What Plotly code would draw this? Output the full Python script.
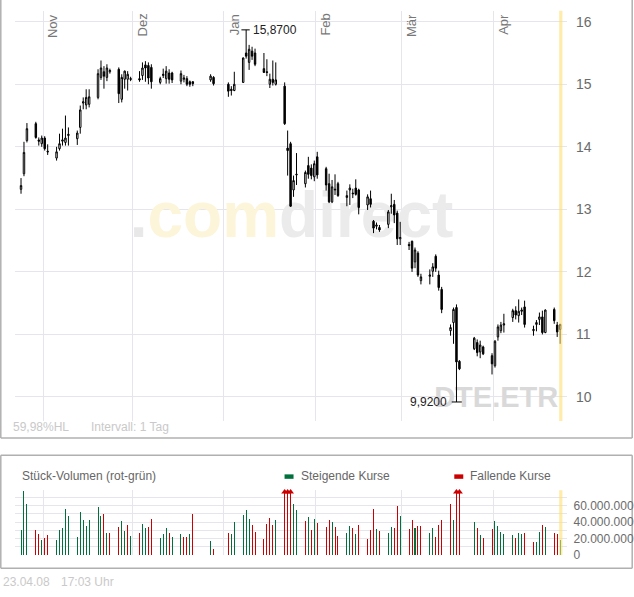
import plotly.graph_objects as go
import pandas as pd

# ---------------- data ----------------
dates = [
    "2007-10-24", "2007-10-25", "2007-10-26", "2007-10-29", "2007-10-30", "2007-10-31",
    "2007-11-01", "2007-11-02",
    "2007-11-05", "2007-11-06", "2007-11-07", "2007-11-08", "2007-11-09",
    "2007-11-12", "2007-11-13", "2007-11-14", "2007-11-15", "2007-11-16",
    "2007-11-19", "2007-11-20", "2007-11-21", "2007-11-22", "2007-11-23",
    "2007-11-26", "2007-11-27", "2007-11-28", "2007-11-29", "2007-11-30",
    "2007-12-03", "2007-12-04", "2007-12-05", "2007-12-06", "2007-12-07",
    "2007-12-10", "2007-12-11", "2007-12-12", "2007-12-13", "2007-12-14",
    "2007-12-17", "2007-12-18", "2007-12-19", "2007-12-20", "2007-12-21",
    "2007-12-27", "2007-12-28",
    "2008-01-02", "2008-01-03", "2008-01-04",
    "2008-01-07", "2008-01-08", "2008-01-09", "2008-01-10", "2008-01-11",
    "2008-01-14", "2008-01-15", "2008-01-16", "2008-01-17", "2008-01-18",
    "2008-01-21", "2008-01-22", "2008-01-23", "2008-01-24", "2008-01-25",
    "2008-01-28", "2008-01-29", "2008-01-30", "2008-01-31", "2008-02-01",
    "2008-02-04", "2008-02-05", "2008-02-06", "2008-02-07", "2008-02-08",
    "2008-02-11", "2008-02-12", "2008-02-13", "2008-02-14", "2008-02-15",
    "2008-02-18", "2008-02-19", "2008-02-20", "2008-02-21", "2008-02-22",
    "2008-02-25", "2008-02-26", "2008-02-27", "2008-02-28", "2008-02-29",
    "2008-03-03", "2008-03-04", "2008-03-05", "2008-03-06", "2008-03-07",
    "2008-03-10", "2008-03-11", "2008-03-12", "2008-03-13", "2008-03-14",
    "2008-03-17", "2008-03-18", "2008-03-19", "2008-03-20",
    "2008-03-25", "2008-03-26", "2008-03-27", "2008-03-28",
    "2008-03-31", "2008-04-01", "2008-04-02", "2008-04-03", "2008-04-04",
    "2008-04-07", "2008-04-08", "2008-04-09", "2008-04-10", "2008-04-11",
    "2008-04-14", "2008-04-15", "2008-04-16", "2008-04-17", "2008-04-18",
    "2008-04-21", "2008-04-22", "2008-04-23",
]

opens = [
    13.32, 13.57, 14.10, 14.37, 14.11, 14.05,
    14.14, 13.93,
    13.82, 13.97, 14.09, 14.07, 14.18,
    14.13, 14.31, 14.70, 14.67, 14.68,
    14.79, 15.11, 15.20, 15.11, 15.20,
    15.24, 14.76, 15.08, 15.08, 15.09,
    15.09, 15.14, 15.31, 15.30, 15.27,
    15.03, 15.14, 15.09, 15.18, 15.18,
    15.05, 15.08, 15.09, 15.04, 15.04,
    15.07, 15.11,
    15.00, 14.92, 14.90,
    15.03, 15.50, 15.35, 15.53, 15.50,
    15.25, 15.20, 15.00, 15.08, 15.00,
    14.97, 13.98, 14.05, 13.31, 13.55,
    13.41, 13.70, 13.66, 13.52, 13.84,
    13.65, 13.41, 13.12, 13.31, 13.41,
    13.19, 13.31, 13.26, 13.34, 13.31,
    13.07, 13.17, 12.81, 12.73, 12.71,
    12.76, 13.04, 13.08, 12.94, 12.53,
    12.44, 12.49, 12.16, 12.30, 11.86,
    11.93, 12.01, 12.25, 11.95, 11.72,
    11.06, 11.19, 11.43, 10.57,
    10.77, 10.87, 10.72, 10.80,
    10.66, 10.50, 10.96, 11.06, 11.15,
    11.27, 11.38, 11.30, 11.37, 11.44,
    11.06, 11.16, 11.24, 11.28, 11.03,
    11.40, 11.15, 11.08,
]

highs = [
    13.50, 14.08, 14.38, 14.40, 14.15, 14.18,
    14.17, 14.04,
    14.00, 14.21, 14.29, 14.50, 14.31,
    14.26, 14.66, 14.79, 14.92, 14.92,
    15.24, 15.38, 15.29, 15.32, 15.25,
    15.27, 15.16, 15.22, 15.21, 15.12,
    15.21, 15.35, 15.37, 15.35, 15.32,
    15.12, 15.25, 15.29, 15.24, 15.20,
    15.22, 15.15, 15.13, 15.06, 15.05,
    15.16, 15.13,
    15.03, 14.97, 15.20,
    15.43, 15.87, 15.63, 15.60, 15.57,
    15.50, 15.40, 15.17, 15.38, 15.35,
    15.03, 14.26, 14.08, 13.54, 13.90,
    13.62, 13.84, 13.72, 13.78, 13.92,
    13.68, 13.57, 13.47, 13.56, 13.44,
    13.30, 13.40, 13.33, 13.48, 13.33,
    13.24, 13.30, 12.83, 12.79, 12.75,
    12.99, 13.25, 13.15, 12.98, 12.80,
    12.48, 12.50, 12.39, 12.33, 11.97,
    12.04, 12.14, 12.28, 12.02, 11.76,
    11.16, 11.43, 11.48, 10.59,
    10.96, 10.92, 10.90, 10.82,
    10.70, 10.91, 11.16, 11.20, 11.33,
    11.41, 11.45, 11.56, 11.43, 11.54,
    11.14, 11.23, 11.35, 11.38, 11.40,
    11.43, 11.20, 11.17,
]

lows = [
    13.25, 13.53, 14.07, 14.13, 14.02, 14.00,
    13.94, 13.87,
    13.78, 13.94, 14.02, 14.02, 14.02,
    14.03, 14.21, 14.60, 14.60, 14.63,
    14.76, 15.07, 14.93, 15.05, 15.17,
    14.70, 14.71, 14.93, 14.90, 15.05,
    15.04, 15.07, 15.04, 15.00, 14.93,
    15.00, 15.10, 15.01, 15.01, 15.02,
    15.00, 15.03, 14.97, 14.96, 14.97,
    15.04, 14.98,
    14.80, 14.82, 14.89,
    15.02, 15.41, 15.23, 15.39, 15.29,
    15.18, 15.13, 14.94, 14.98, 14.98,
    14.35, 13.54, 13.04, 13.20, 13.39,
    13.35, 13.49, 13.48, 13.45, 13.49,
    13.30, 13.10, 13.10, 13.23, 13.20,
    13.05, 13.07, 13.18, 13.22, 12.92,
    12.99, 13.03, 12.62, 12.68, 12.64,
    12.70, 12.93, 12.78, 12.43, 12.43,
    12.35, 12.00, 12.06, 11.92, 11.80,
    11.80, 11.92, 12.00, 11.70, 11.34,
    10.98, 10.85, 9.92, 10.43,
    10.75, 10.65, 10.62, 10.67,
    10.36, 10.47, 10.90, 11.02, 11.03,
    11.20, 11.24, 11.19, 11.31, 11.11,
    10.98, 11.05, 11.15, 11.00, 11.02,
    11.17, 10.96, 10.85,
]

closes = [
    13.38, 13.91, 14.29, 14.15, 14.09, 14.14,
    13.97, 13.92,
    13.92, 14.05, 14.11, 14.14, 14.20,
    14.22, 14.59, 14.72, 14.79, 14.80,
    15.17, 15.26, 15.13, 15.26, 15.22,
    14.85, 15.11, 15.21, 15.16, 15.08,
    15.07, 15.26, 15.26, 15.10, 15.04,
    15.09, 15.16, 15.21, 15.08, 15.07,
    15.17, 15.10, 15.00, 15.00, 15.01,
    15.13, 15.01,
    14.89, 14.90, 15.00,
    15.42, 15.45, 15.56, 15.45, 15.32,
    15.19, 15.19, 15.08, 15.03, 15.07,
    14.37, 13.94, 13.05, 13.46, 13.56,
    13.59, 13.56, 13.54, 13.73, 13.55,
    13.39, 13.12, 13.36, 13.32, 13.22,
    13.22, 13.34, 13.25, 13.24, 13.03,
    13.20, 13.08, 12.70, 12.75, 12.67,
    12.96, 13.06, 12.91, 12.53, 12.55,
    12.42, 12.06, 12.35, 11.95, 11.92,
    11.95, 12.08, 12.06, 11.75, 11.40,
    11.11, 11.40, 10.56, 10.45,
    10.94, 10.71, 10.83, 10.69,
    10.53, 10.89, 11.12, 11.15, 11.17,
    11.38, 11.31, 11.37, 11.39, 11.16,
    11.08, 11.19, 11.28, 11.03, 11.39,
    11.22, 11.04, 11.16,
]

# volume in millions of shares
volumes_m = [
    30, 78, 62, 30, 26, 18,
    21, 25,
    18, 30, 33, 56, 47.6,
    22, 52.5, 42.8, 35.6, 42.8,
    58.4, 47.6, 50, 27.2, 27.2,
    34.4, 41.6, 29.6, 36.8, 23.6,
    27.2, 38, 33.2, 34.4, 44,
    21.2, 26, 33.2, 27.2, 22.4,
    26, 22.4, 22.4, 26, 50,
    17.6, 8,
    27.2, 26, 40.4,
    48.8, 54.8, 44, 36.8, 28.4,
    20, 38, 45.2, 36.8, 42.8,
    105, 125, 115, 62, 54.8,
    42, 46.8, 30.8, 44, 39.2,
    34.4, 42.8, 40.4, 34.4, 23.6,
    27.2, 35.6, 33.2, 26, 36.8,
    20, 30.8, 56, 32, 29.6,
    27.2, 34.4, 33.2, 59.6, 47.6,
    32, 42.8, 33.2, 35.6, 35.6,
    27.2, 33.2, 22.4, 36.8, 42.8,
    62, 42.8, 120, 95,
    40.4, 33.2, 24.8, 21.2,
    32, 41.6, 35.6, 28.4, 26,
    24.8, 21.2, 27.2, 26, 27.2,
    16.4, 16.4, 28.4, 36.8, 34.4,
    27.2, 26, 18.8,
]

# g = rising (green), r = falling (red)
volume_dir = (
    "gggrrg" "rr" "ggggg" "ggggg" "ggrgr" "rggrg" "rggrr" "gggrg" "grrgr" "gr"
    "rgg" "gggrr" "rrrrg" "rrrgg" "rgrgr" "rrgrr" "ggrgr" "rrrgr" "ggrrg"
    "rrgrr" "ggrrr" "rgrr" "grgr" "rgggg" "grggr" "rggrg" "rrg"
)

month_starts = ["2007-11-01", "2007-12-01", "2008-01-01", "2008-02-01", "2008-03-01", "2008-04-01"]
month_labels = ["Nov", "Dez", "Jan", "Feb", "Mär", "Apr"]
price_ticks = [10, 11, 12, 13, 14, 15, 16]
volume_ticks_m = [0, 10, 20, 30, 40, 50, 60, 70]
volume_ticktext = ["0", "", "20.000.000", "", "40.000.000", "", "60.000.000", ""]
now_stamp = "2008-04-23 17:03"

# ---------------- geometry helpers ----------------
W, H = 634, 597
FONT = "Liberation Sans, Arial, sans-serif"
GRID = "#e7e5ec"
FRAME = "#b0b0b0"
NOV1 = pd.Timestamp("2007-11-01")
PX_NOV1, PX_PER_DAY = 43.3, 2.967


def px2date(px):
    return NOV1 + pd.Timedelta(days=(px - PX_NOV1) / PX_PER_DAY)


def fx(px):
    return px / W


def fy(py):
    return 1 - py / H


def py2price(py):
    return 16 - (py - 22) / 63.28


xs = [pd.Timestamp(d) + pd.Timedelta(hours=12) for d in dates]
x_range = [px2date(15), px2date(568)]
y_range = [py2price(426), py2price(11)]
vol_top = 78.8

fig = go.Figure()

# watermark (base layer, below the candles)
fig.add_trace(go.Scatter(
    x=[px2date(292)], y=[py2price(224)], mode="text",
    text=['<span style="color:#e8e8e8">.</span><span style="color:#fcf5da">com</span>'
          '<span style="color:#ebebeb">direct</span>'],
    textposition="middle center",
    textfont=dict(family=FONT, size=64, weight="bold"),
    xaxis="x", yaxis="y", hoverinfo="skip", showlegend=False))
fig.add_trace(go.Scatter(
    x=[px2date(497)], y=[py2price(405)], mode="text", text=["DTE.ETR"],
    textposition="middle center",
    textfont=dict(family=FONT, size=29, color="#d9d9d9", weight="bold"),
    xaxis="x", yaxis="y", hoverinfo="skip", showlegend=False))

# candles on an overlay axis so they sit above the watermark
fig.add_trace(go.Candlestick(
    x=xs, open=opens, high=highs, low=lows, close=closes,
    xaxis="x", yaxis="y3",
    increasing=dict(line=dict(color="#000000", width=1), fillcolor="#ffffff"),
    decreasing=dict(line=dict(color="#000000", width=1), fillcolor="#000000"),
    whiskerwidth=0, hoverinfo="skip", showlegend=False))

# volume bars
GREEN, RED = "#00703c", "#cc0000"
bar_colors = [GREEN if c == "g" else RED for c in volume_dir]
fig.add_trace(go.Bar(
    x=xs, y=volumes_m, marker=dict(color=bar_colors, line=dict(width=0)),
    width=0.34 * 86400000, xaxis="x2", yaxis="y2", hoverinfo="skip", showlegend=False))

clip_x = [x for x, v in zip(xs, volumes_m) if v > vol_top]
fig.add_trace(go.Scatter(
    x=clip_x, y=[vol_top - 2.2] * len(clip_x), mode="markers",
    marker=dict(symbol="triangle-up", size=6, color=RED, line=dict(width=0)),
    xaxis="x2", yaxis="y2", cliponaxis=False, hoverinfo="skip", showlegend=False))

# ---------------- shapes & annotations ----------------
shapes = []
annotations = []

# panel frames (kept inside the page)
L, R = 0.8, 633.2
for x0, y0, x1, y1 in [(L, 0, L, 443.3), (R, 0, R, 443.3), (L, 443.3, R, 443.3),
                       (L, 460.7, R, 460.7), (L, 575, R, 575), (L, 460.7, L, 575), (R, 460.7, R, 575)]:
    shapes.append(dict(type="line", xref="paper", yref="paper", x0=fx(x0), x1=fx(x1), y0=fy(y0), y1=fy(y1),
                       line=dict(color=FRAME, width=1.5), layer="below"))

# today highlight
now = pd.Timestamp(now_stamp)
half = pd.Timedelta(hours=13)
for y0, y1 in [(fy(426), fy(11)), (fy(561.7), fy(496))]:
    shapes.append(dict(type="rect", xref="x", yref="paper", x0=now - half, x1=now + half, y0=y0, y1=y1,
                       fillcolor="#ffdf70", opacity=0.6, line=dict(width=0), layer="above"))

# high / low markers
hi = max(range(len(highs)), key=lambda i: highs[i])
lo = min(range(len(lows)), key=lambda i: lows[i])
day = pd.Timedelta(days=1)
shapes.append(dict(type="line", xref="x", yref="y", x0=xs[hi] - 1.6 * day, x1=xs[hi] + 1.2 * day,
                   y0=highs[hi], y1=highs[hi], line=dict(color="#000", width=1)))
shapes.append(dict(type="line", xref="x", yref="y", x0=xs[lo] - 1.6 * day, x1=xs[lo] + 1.8 * day,
                   y0=lows[lo], y1=lows[lo], line=dict(color="#000", width=1)))
annotations.append(dict(x=xs[hi], y=highs[hi], xref="x", yref="y", xanchor="left", yanchor="middle",
                        xshift=5, text=f"{highs[hi]:.4f}".replace(".", ","), showarrow=False,
                        font=dict(family=FONT, size=12, color="#222")))
annotations.append(dict(x=xs[lo], y=lows[lo], xref="x", yref="y", xanchor="right", yanchor="middle",
                        xshift=-7, text=f"{lows[lo]:.4f}".replace(".", ","), showarrow=False,
                        font=dict(family=FONT, size=12, color="#222")))

# month labels (rotated)
for d, lab in zip(month_starts, month_labels):
    gx = PX_NOV1 + (pd.Timestamp(d) - NOV1) / pd.Timedelta(days=1) * PX_PER_DAY
    annotations.append(dict(x=fx(gx + 0.5), y=fy(12), xref="paper", yref="paper", xanchor="left",
                            yanchor="top", text=lab, textangle=-90, showarrow=False,
                            font=dict(family=FONT, size=13, color="#777")))

# misc texts
light = "#c9c9c9"
for txt, x, y, col in [("59,98%HL", 11, 432, light), ("Intervall: 1 Tag", 89, 432, light),
                       ("Stück-Volumen (rot-grün)", 20, 482, "#666"),
                       ("Steigende Kurse", 299, 482, "#666"), ("Fallende Kurse", 469, 482, "#666"),
                       ("23.04.08", 1, 588.5, light), ("17:03 Uhr", 59, 588.5, light)]:
    annotations.append(dict(x=fx(x), y=fy(y), xref="paper", yref="paper", xanchor="left", yanchor="middle",
                            text=txt, showarrow=False, font=dict(family=FONT, size=12, color=col)))

# legend squares
shapes.append(dict(type="rect", xref="paper", yref="paper", x0=fx(285), x1=fx(294), y0=fy(484.5), y1=fy(480),
                   fillcolor=GREEN, line=dict(width=0)))
shapes.append(dict(type="rect", xref="paper", yref="paper", x0=fx(455), x1=fx(464), y0=fy(484.5), y1=fy(480),
                   fillcolor=RED, line=dict(width=0)))

fig.update_layout(
    width=W, height=H, margin=dict(l=0, r=0, t=0, b=0),
    paper_bgcolor="#ffffff", plot_bgcolor="#ffffff",
    showlegend=False, bargap=0,
    font=dict(family=FONT, color="#666"),
    xaxis=dict(domain=[fx(15), fx(568)], range=x_range, type="date", anchor="y",
               tickmode="array", tickvals=month_starts, showticklabels=False, ticks="",
               showgrid=True, gridcolor=GRID, gridwidth=1, zeroline=False, showline=False,
               rangeslider=dict(visible=False), fixedrange=True),
    yaxis=dict(domain=[fy(426), fy(11)], range=y_range, side="right", anchor="x",
               tickmode="array", tickvals=price_ticks, ticktext=[str(t) for t in price_ticks],
               showgrid=True, gridcolor=GRID, gridwidth=1, zeroline=False, showline=False,
               ticks="outside", ticklen=5, tickcolor="rgba(0,0,0,0)",
               tickfont=dict(family=FONT, size=14, color="#6b6b6b"), fixedrange=True),
    yaxis3=dict(overlaying="y", anchor="x", range=y_range, visible=False, showgrid=False, fixedrange=True),
    xaxis2=dict(domain=[fx(15), fx(568)], matches="x", type="date", anchor="y2",
                tickmode="array", tickvals=month_starts, showticklabels=False, ticks="",
                showgrid=True, gridcolor=GRID, gridwidth=1, zeroline=False, showline=False,
                rangeslider=dict(visible=False), fixedrange=True),
    yaxis2=dict(domain=[fy(561.7), fy(496)], range=[0, vol_top], side="right", anchor="x2",
                tickmode="array", tickvals=volume_ticks_m, ticktext=volume_ticktext,
                showgrid=True, gridcolor=GRID, gridwidth=1, zeroline=False, showline=False,
                ticks="outside", ticklen=3, tickcolor="rgba(0,0,0,0)",
                tickfont=dict(family=FONT, size=12, color="#6b6b6b"), fixedrange=True),
    shapes=shapes, annotations=annotations,
)

# staticPlot: no drag layers, which otherwise stick out past the page edge
fig.write_html(
    "out.html",
    config={"displayModeBar": False, "staticPlot": True},
    post_script="document.body.style.margin='0px';",
)
